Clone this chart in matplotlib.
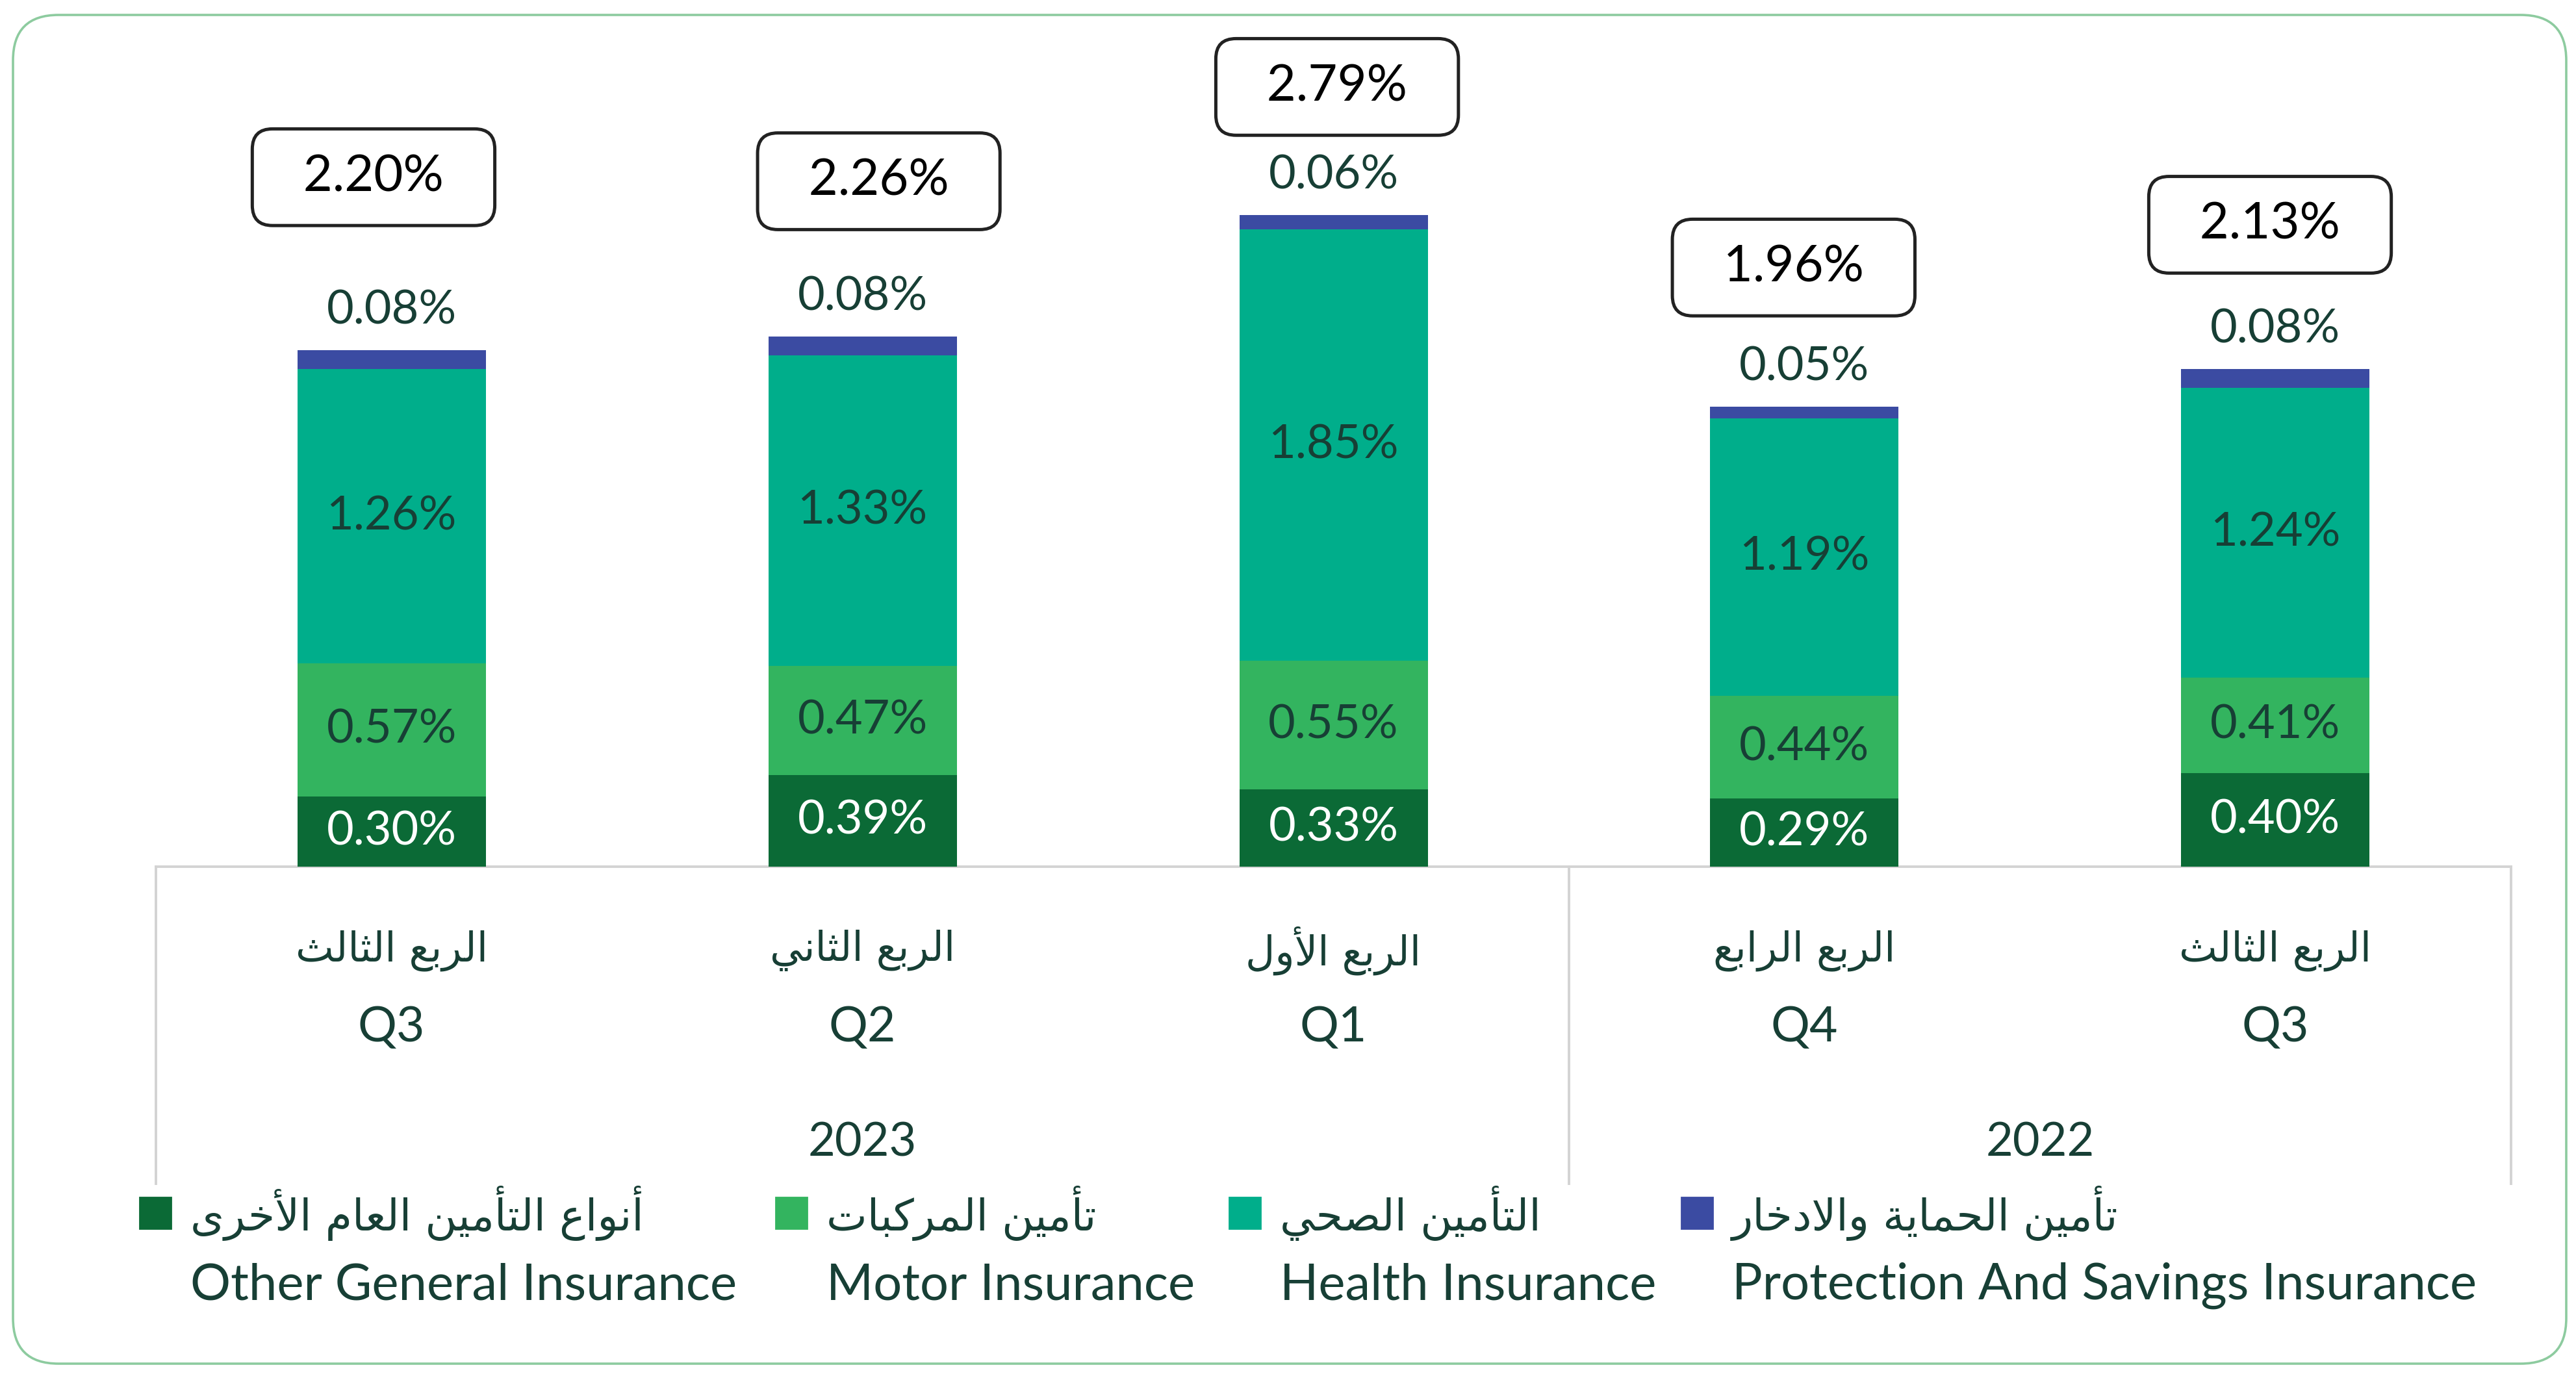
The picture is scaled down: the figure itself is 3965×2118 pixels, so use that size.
import matplotlib
matplotlib.use("Agg")
import matplotlib.pyplot as plt
from matplotlib.patches import FancyBboxPatch, Rectangle

quarters_ar = ["الربع الثالث", "الربع الثاني", "الربع الأول", "الربع الرابع", "الربع الثالث"]
quarters_en = ["Q3", "Q2", "Q1", "Q4", "Q3"]
years = ["2023", "2022"]
year_groups = [[0, 1, 2], [3, 4]]

series_ar = ["أنواع التأمين العام الأخرى", "تأمين المركبات", "التأمين الصحي", "تأمين الحماية والادخار"]
series_en = ["Other General Insurance", "Motor Insurance", "Health Insurance",
             "Protection And Savings Insurance"]

other = [0.30, 0.39, 0.33, 0.29, 0.40]
motor = [0.57, 0.47, 0.55, 0.44, 0.41]
health = [1.26, 1.33, 1.85, 1.19, 1.24]
protection = [0.08, 0.08, 0.06, 0.05, 0.08]
totals = [2.20, 2.26, 2.79, 1.96, 2.13]

colors = ["#0B6A36", "#33B45F", "#00AE8B", "#3B4BA2"]
TXT = "#173F35"
NUM_FONT = ["Lato", "DejaVu Sans"]

# minimal arabic shaping (matplotlib has no complex text layout)
DUAL = {"ب": 0xFE8F, "ت": 0xFE95, "ث": 0xFE99, "ح": 0xFEA1, "خ": 0xFEA5, "ص": 0xFEB9,
        "ع": 0xFEC9, "ك": 0xFED9, "ل": 0xFEDD, "م": 0xFEE1, "ن": 0xFEE5, "ي": 0xFEF1}
RIGHT = {"ا": 0xFE8D, "أ": 0xFE83, "د": 0xFEA9, "ر": 0xFEAD, "و": 0xFEED, "ى": 0xFEEF, "ة": 0xFE93}
LAMALEF = {"ا": 0xFEFB, "أ": 0xFEF7}


def shape(text):
    out = []
    n = len(text)
    i = 0
    while i < n:
        c = text[i]
        if c not in DUAL and c not in RIGHT:
            out.append(c)
            i += 1
            continue
        p = i > 0 and text[i - 1] in DUAL
        if c == "ل" and i + 1 < n and text[i + 1] in LAMALEF:
            out.append(chr(LAMALEF[text[i + 1]] + (1 if p else 0)))
            i += 2
            continue
        nxt = text[i + 1] if i + 1 < n else ""
        q = c in DUAL and (nxt in DUAL or nxt in RIGHT)
        if c in DUAL:
            form = 3 if (p and q) else 1 if p else 2 if q else 0
            out.append(chr(DUAL[c] + form))
        else:
            out.append(chr(RIGHT[c] + (1 if p else 0)))
        i += 1
    return "".join(reversed(out))


fig = plt.figure(figsize=(19.83, 10.59), dpi=200)

# outer rounded frame
frame = FancyBboxPatch((0.1, 0.095), 19.65, 10.38, boxstyle="round,pad=0,rounding_size=0.35",
                       transform=fig.dpi_scale_trans, fill=False, ec="#8DCB9F", lw=1.3)
fig.add_artist(frame)

ax = fig.add_axes([95 / 1568, 1 - 527 / 837, (1528 - 95) / 1568, 3.5 * 142 / 837])
ax.set_xlim(-0.5, 4.5)
ax.set_ylim(0, 3.5)
ax.axis("off")

x = list(range(len(totals)))
series = [other, motor, health, protection]
bottom = [0.0] * len(x)
for k, vals in enumerate(series):
    ax.bar(x, vals, width=0.4, bottom=bottom, color=colors[k], zorder=2)
    for i, v in enumerate(vals):
        if k < 3:
            ax.text(x[i], bottom[i] + v / 2, f"{v:.2f}%", ha="center", va="center",
                    fontsize=26, family=NUM_FONT, color="white" if k == 0 else TXT, zorder=3)
        else:
            ax.annotate(f"{v:.2f}%", (x[i], bottom[i] + v), xytext=(0, 22),
                        textcoords="offset points", ha="center", va="center",
                        fontsize=26, family=NUM_FONT, color=TXT)
    bottom = [b + v for b, v in zip(bottom, vals)]

# total boxes
box_dx = [-10, 9, 2, -6, -3]
box_dy = [96, 86, 71, 77, 80]
for i, t in enumerate(totals):
    ax.annotate(f"  {t:.2f}%  ", (x[i], bottom[i]), xytext=(box_dx[i], box_dy[i]),
                textcoords="offset points", ha="center", va="center",
                fontsize=28, family=NUM_FONT, color="black",
                bbox=dict(boxstyle="round,pad=0.5,rounding_size=0.4", fc="white",
                          ec="#222222", lw=1.8))

# category table lines and labels
tr = ax.get_xaxis_transform()
ax.plot([-0.5, 4.5], [0, 0], transform=tr, color="#D3D3D3", lw=1.4, clip_on=False, zorder=1)
for xv in [-0.5, 2.5, 4.5]:
    ax.plot([xv, xv], [0, -0.388], transform=tr, color="#D3D3D3", lw=1.4, clip_on=False)

for i in x:
    ax.text(x[i], -0.103, shape(quarters_ar[i]), transform=tr, ha="center", va="center",
            fontsize=22.5, family="DejaVu Sans", color=TXT)
    ax.text(x[i], -0.197, quarters_en[i], transform=tr, ha="center", va="center",
            fontsize=27, family=NUM_FONT, color=TXT)
for yr, grp in zip(years, year_groups):
    ax.text(sum(grp) / len(grp), -0.338, yr, transform=tr, ha="center", va="center",
            fontsize=26, family=NUM_FONT, color=TXT)

# legend
leg_left = [85, 472, 748, 1023]
sq_w, sq_h = 48 / 3966, 48 / 2118
for k in range(4):
    x0 = leg_left[k] / 1568
    fig.add_artist(Rectangle((x0, 1 - 738 / 837 - sq_h / 2), sq_w, sq_h,
                             transform=fig.transFigure, color=colors[k]))
    fig.text(x0 + 31 / 1568, 1 - 738 / 837, shape(series_ar[k]), ha="left", va="center",
             fontsize=24, family="DejaVu Sans", color=TXT)
    fig.text(x0 + 31 / 1568, 1 - 782 / 837, series_en[k], ha="left", va="center",
             fontsize=28, family=NUM_FONT, color=TXT)

fig.savefig("out.png", dpi=200, facecolor="white")
